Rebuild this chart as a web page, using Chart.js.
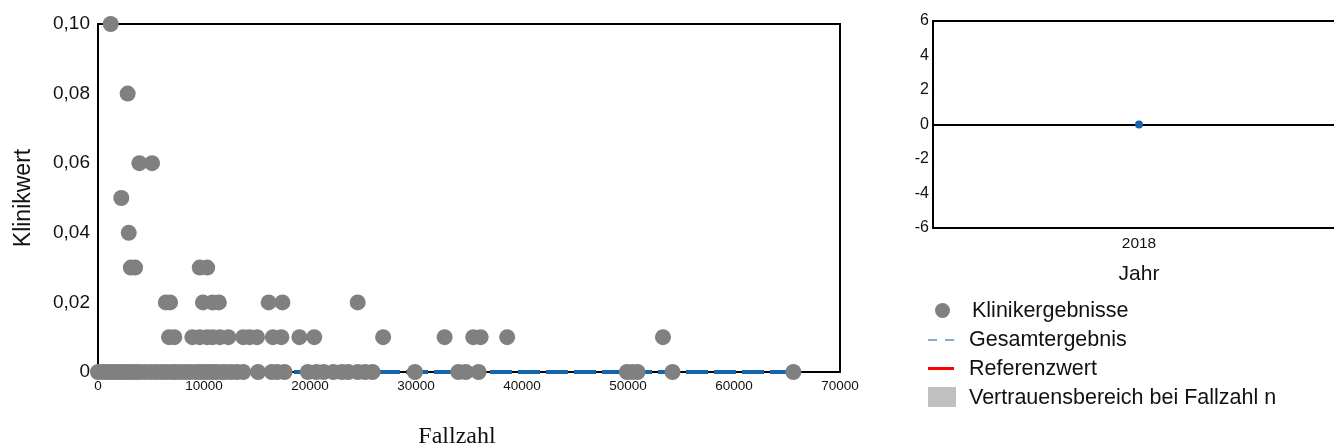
<!DOCTYPE html>
<html>
<head>
<meta charset="utf-8">
<script src="https://cdn.jsdelivr.net/npm/chart.js@4.4.1/dist/chart.umd.min.js"></script>
<style>
  html, body { margin: 0; padding: 0; background: #fff; overflow: hidden; }
  body { width: 1334px; height: 446px; position: relative; font-family: 'Liberation Sans', Arial, sans-serif; }
  #left { position: absolute; left: 0; top: 0; }
  #right { position: absolute; left: 870px; top: 0; }
  .legend { position: absolute; left: 926px; top: 296px; font-size: 21.5px; color: #111; }
  .item { position: relative; height: 29px; line-height: 29px; padding-left: 43px; white-space: nowrap; }
  .mark { position: absolute; }
</style>
</head>
<body>
<canvas id="left" width="870" height="460"></canvas>
<canvas id="right" width="479" height="300"></canvas>

<div class="legend">
  <div class="item"><span class="mark" style="left:9px;top:7px;width:15px;height:15px;border-radius:50%;background:#808080"></span><span style="margin-left:3px">Klinikergebnisse</span></div>
  <div class="item"><span class="mark" style="left:2px;top:14px;width:9px;height:0;border-top:2px solid #8fa9c9"></span><span class="mark" style="left:19px;top:14px;width:9px;height:0;border-top:2px solid #8fa9c9"></span>Gesamtergebnis</div>
  <div class="item"><span class="mark" style="left:2px;top:13px;width:26px;height:3px;background:#ff0000"></span>Referenzwert</div>
  <div class="item"><span class="mark" style="left:2px;top:4px;width:28px;height:20px;background:#c0c0c0"></span>Vertrauensbereich bei Fallzahl n</div>
</div>

<script>
// Klinikergebnisse: Fallzahl je Klinikwert
const fallzahl_010 = [1200];
const fallzahl_008 = [2800];
const fallzahl_006 = [3900, 5100];
const fallzahl_005 = [2200];
const fallzahl_004 = [2900];
const fallzahl_003 = [3100, 3500, 9600, 10300];
const fallzahl_002 = [6400, 6800, 9900, 10800, 11400, 16100, 17400, 24500];
const fallzahl_001 = [6700, 7200, 8900, 9600, 10300, 10800, 11500, 12300, 13700, 14300, 15000,
                      16500, 17300, 19000, 20400, 26900, 32700, 35400, 36100, 38600, 53300];
const fallzahl_000 = [0, 400, 800, 1200, 1600, 2000, 2400, 2800, 3200, 3600, 4000, 4500, 5000,
                      5500, 6000, 6400, 6900, 7300, 7800, 8300, 8700, 9200, 9600, 10000, 10400,
                      10800, 11200, 11700, 12100, 12600, 13100, 13700, 15100, 16400, 16900, 17600,
                      19800, 20600, 21300, 22200, 23000, 23600, 24500, 25200, 25900,
                      29900, 34000, 34700, 35900, 49900, 50400, 50900, 54200, 65600];

const klinikwerte = [0.10, 0.08, 0.06, 0.05, 0.04, 0.03, 0.02, 0.01, 0];
const fallzahlen = [fallzahl_010, fallzahl_008, fallzahl_006, fallzahl_005, fallzahl_004,
                    fallzahl_003, fallzahl_002, fallzahl_001, fallzahl_000];

// Gesamtergebnis
const gesamtFallzahl = [0, 65600];
const gesamtWert = [0, 0];

// rechtes Diagramm
const jahre = ['2018'];
const jahrWerte = [0];

const xTicksLeft = [0, 10000, 20000, 30000, 40000, 50000, 60000, 70000];

var punkte = [];
for (let i = 0; i < klinikwerte.length; i++) {
  for (let j = 0; j < fallzahlen[i].length; j++) {
    punkte.push({x: fallzahlen[i][j], y: klinikwerte[i]});
  }
}
var gesamt = gesamtFallzahl.map((f, i) => ({x: f, y: gesamtWert[i]}));

const blau = '#1565ad';

// Rahmen um den Plotbereich
const boxPlugin = {
  id: 'box',
  beforeDatasetsDraw(chart, args, opts) {
    const a = chart.chartArea;
    const c = chart.ctx;
    c.save();
    c.strokeStyle = '#000';
    c.lineWidth = 2;
    c.strokeRect(a.left, a.top, a.right - a.left, a.bottom - a.top);
    c.restore();
  }
};

Chart.defaults.font.family = "'Liberation Sans', Arial, sans-serif";
Chart.defaults.color = '#111';

new Chart(document.getElementById('left'), {
  type: 'scatter',
  data: {
    datasets: [{
      label: 'Klinikergebnisse',
      data: punkte,
      backgroundColor: '#808080',
      borderWidth: 0,
      pointRadius: 8,
      pointHoverRadius: 8,
      clip: false,
      order: 0
    }, {
      type: 'line',
      label: 'Gesamtergebnis',
      data: gesamt,
      borderColor: blau,
      borderWidth: 4,
      borderDash: [22, 6],
      pointRadius: 0,
      fill: false,
      clip: false,
      order: 1
    }]
  },
  options: {
    responsive: false,
    animation: false,
    layout: { padding: { top: 24, right: 30, left: 0, bottom: 0 } },
    plugins: { legend: { display: false }, tooltip: { enabled: false } },
    scales: {
      x: {
        type: 'linear',
        min: 0, max: 70000,
        afterBuildTicks: s => { s.ticks = xTicksLeft.map(v => ({value: v})); },
        grid: { display: false, drawTicks: false },
        border: { display: false },
        ticks: { font: { size: 13.5 }, padding: 6, maxRotation: 0, callback: v => String(v) },
        // Leerzeichen verschieben den Titel leicht nach links wie im Original
        title: { display: true, text: 'Fallzahl    ', font: { family: "'Liberation Serif', 'Times New Roman', serif", size: 24 }, padding: { top: 0, bottom: 9 } },
        afterFit: s => { s.height = 88; }
      },
      y: {
        min: 0, max: 0.1,
        ticks: { stepSize: 0.02, font: { size: 19 }, padding: 8,
                 callback: v => v === 0 ? '0' : v.toFixed(2).replace('.', ',') },
        grid: { display: false, drawTicks: false },
        border: { display: false },
        title: { display: true, text: 'Klinikwert', font: { size: 23 }, padding: { top: 10, bottom: 0 } },
        afterFit: s => { s.width = 98; }
      }
    }
  },
  plugins: [boxPlugin]
});

new Chart(document.getElementById('right'), {
  type: 'line',
  data: {
    labels: jahre,
    datasets: [{
      label: 'Gesamtergebnis',
      data: jahrWerte,
      borderColor: blau,
      backgroundColor: blau,
      pointRadius: 4,
      pointBorderWidth: 0,
      showLine: false
    }]
  },
  options: {
    responsive: false,
    animation: false,
    layout: { padding: { top: 21, right: 0, left: 0, bottom: 0 } },
    plugins: { legend: { display: false }, tooltip: { enabled: false } },
    scales: {
      x: {
        type: 'category',
        offset: true,
        grid: { display: false, drawTicks: false },
        border: { display: false },
        ticks: { font: { size: 15.5 }, padding: 6 },
        title: { display: true, text: 'Jahr', font: { size: 21 }, padding: { top: 0, bottom: 13 } },
        afterFit: s => { s.height = 72; }
      },
      y: {
        min: -6, max: 6,
        ticks: { stepSize: 2, font: { size: 16 }, padding: 4 },
        grid: { drawTicks: false, lineWidth: 2, color: c => c.tick && c.tick.value === 0 ? '#000' : 'rgba(0,0,0,0)' },
        border: { display: false },
        afterFit: s => { s.width = 63; }
      }
    }
  },
  plugins: [boxPlugin]
});
</script>
</body>
</html>
